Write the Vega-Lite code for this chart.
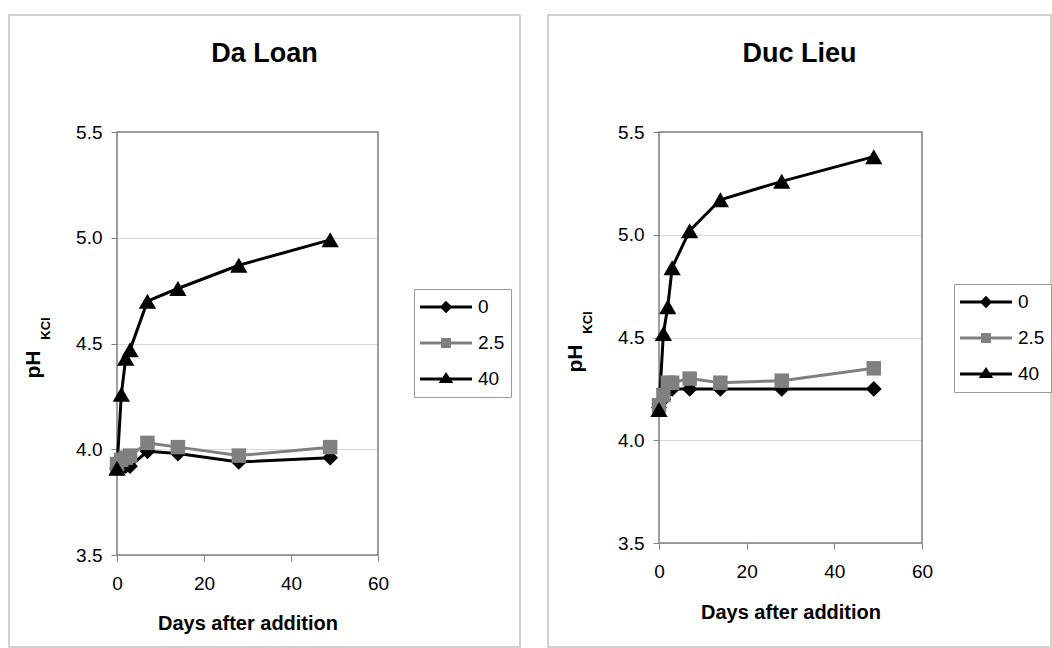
{
  "$schema": "https://vega.github.io/schema/vega-lite/v6.json",
  "background": "white",
  "padding": {"left": 8, "top": 14, "right": 0, "bottom": 0},
  "spacing": 26,
  "datasets": {
    "box": [{"part": "plot area"}],
    "ph": [
      {"site": "Da Loan", "level": "0", "day": 0, "ph": 3.91},
      {"site": "Da Loan", "level": "0", "day": 1, "ph": 3.91},
      {"site": "Da Loan", "level": "0", "day": 2, "ph": 3.92},
      {"site": "Da Loan", "level": "0", "day": 3, "ph": 3.92},
      {"site": "Da Loan", "level": "0", "day": 7, "ph": 3.99},
      {"site": "Da Loan", "level": "0", "day": 14, "ph": 3.98},
      {"site": "Da Loan", "level": "0", "day": 28, "ph": 3.94},
      {"site": "Da Loan", "level": "0", "day": 49, "ph": 3.96},
      {"site": "Da Loan", "level": "2.5", "day": 0, "ph": 3.93},
      {"site": "Da Loan", "level": "2.5", "day": 1, "ph": 3.95},
      {"site": "Da Loan", "level": "2.5", "day": 2, "ph": 3.96},
      {"site": "Da Loan", "level": "2.5", "day": 3, "ph": 3.97},
      {"site": "Da Loan", "level": "2.5", "day": 7, "ph": 4.03},
      {"site": "Da Loan", "level": "2.5", "day": 14, "ph": 4.01},
      {"site": "Da Loan", "level": "2.5", "day": 28, "ph": 3.97},
      {"site": "Da Loan", "level": "2.5", "day": 49, "ph": 4.01},
      {"site": "Da Loan", "level": "40", "day": 0, "ph": 3.91},
      {"site": "Da Loan", "level": "40", "day": 1, "ph": 4.26},
      {"site": "Da Loan", "level": "40", "day": 2, "ph": 4.43},
      {"site": "Da Loan", "level": "40", "day": 3, "ph": 4.47},
      {"site": "Da Loan", "level": "40", "day": 7, "ph": 4.70},
      {"site": "Da Loan", "level": "40", "day": 14, "ph": 4.76},
      {"site": "Da Loan", "level": "40", "day": 28, "ph": 4.87},
      {"site": "Da Loan", "level": "40", "day": 49, "ph": 4.99},
      {"site": "Duc Lieu", "level": "0", "day": 0, "ph": 4.16},
      {"site": "Duc Lieu", "level": "0", "day": 1, "ph": 4.20},
      {"site": "Duc Lieu", "level": "0", "day": 2, "ph": 4.24},
      {"site": "Duc Lieu", "level": "0", "day": 3, "ph": 4.25},
      {"site": "Duc Lieu", "level": "0", "day": 7, "ph": 4.25},
      {"site": "Duc Lieu", "level": "0", "day": 14, "ph": 4.25},
      {"site": "Duc Lieu", "level": "0", "day": 28, "ph": 4.25},
      {"site": "Duc Lieu", "level": "0", "day": 49, "ph": 4.25},
      {"site": "Duc Lieu", "level": "2.5", "day": 0, "ph": 4.17},
      {"site": "Duc Lieu", "level": "2.5", "day": 1, "ph": 4.22},
      {"site": "Duc Lieu", "level": "2.5", "day": 2, "ph": 4.28},
      {"site": "Duc Lieu", "level": "2.5", "day": 3, "ph": 4.28},
      {"site": "Duc Lieu", "level": "2.5", "day": 7, "ph": 4.30},
      {"site": "Duc Lieu", "level": "2.5", "day": 14, "ph": 4.28},
      {"site": "Duc Lieu", "level": "2.5", "day": 28, "ph": 4.29},
      {"site": "Duc Lieu", "level": "2.5", "day": 49, "ph": 4.35},
      {"site": "Duc Lieu", "level": "40", "day": 0, "ph": 4.15},
      {"site": "Duc Lieu", "level": "40", "day": 1, "ph": 4.52},
      {"site": "Duc Lieu", "level": "40", "day": 2, "ph": 4.65},
      {"site": "Duc Lieu", "level": "40", "day": 3, "ph": 4.84},
      {"site": "Duc Lieu", "level": "40", "day": 7, "ph": 5.02},
      {"site": "Duc Lieu", "level": "40", "day": 14, "ph": 5.17},
      {"site": "Duc Lieu", "level": "40", "day": 28, "ph": 5.26},
      {"site": "Duc Lieu", "level": "40", "day": 49, "ph": 5.38}
    ]
  },
  "resolve": {
    "scale": {"x": "independent", "y": "independent", "color": "independent", "shape": "independent"},
    "legend": {"color": "independent", "shape": "independent"}
  },
  "hconcat": [
    {
      "width": 511,
      "height": 632,
      "title": {"text": "Da Loan", "fontSize": 27, "fontWeight": "bold", "color": "#000000", "offset": -53, "anchor": "middle"},
      "resolve": {"axis": {"y": "independent"}},
      "layer": [
        {
          "data": {"name": "box"},
          "mark": {"type": "rect", "filled": false, "stroke": "#7f7f7f", "strokeWidth": 1.5},
          "encoding": {
            "x": {"datum": 0, "type": "quantitative", "scale": {"domain": [0, 60], "range": [108, 369], "nice": false, "zero": false},
                  "axis": {"values": [0, 20, 40, 60], "title": "Days after addition", "offset": -92, "grid": false, "domain": false, "tickSize": 6, "tickColor": "#808080", "labelPadding": 13, "labelFontSize": 19, "labelFlush": false, "labelOverlap": false, "titleFontSize": 20, "titleFontWeight": "bold", "titleY": 68, "titleBaseline": "middle"}},
            "x2": {"datum": 60},
            "y": {"datum": 3.5, "type": "quantitative", "scale": {"domain": [3.5, 5.5], "range": [540, 117], "nice": false, "zero": false}, "axis": null},
            "y2": {"datum": 5.5}
          }
        },
        {
          "data": {"name": "ph"},
          "transform": [{"filter": "datum.site === 'Da Loan'"}],
          "mark": {"type": "line", "strokeWidth": 3},
          "encoding": {
            "x": {"field": "day", "type": "quantitative", "scale": {"domain": [0, 60], "range": [108, 369], "nice": false, "zero": false},
                  "axis": {"values": [0, 20, 40, 60], "title": "Days after addition", "offset": -92, "grid": false, "domain": false, "tickSize": 6, "tickColor": "#808080", "labelPadding": 13, "labelFontSize": 19, "labelFlush": false, "labelOverlap": false, "titleFontSize": 20, "titleFontWeight": "bold", "titleY": 68, "titleBaseline": "middle"}},
            "y": {"field": "ph", "type": "quantitative", "scale": {"domain": [3.5, 5.5], "range": [540, 117], "nice": false, "zero": false},
                  "axis": {"values": [3.5, 4, 4.5, 5, 5.5], "format": ".1f", "title": "pH", "orient": "left", "offset": -108, "grid": true, "gridColor": "#d9d9d9", "domain": false, "tickSize": 6, "tickColor": "#808080", "labelPadding": 9, "labelFontSize": 19, "labelFlush": false, "labelOverlap": false, "titleFontSize": 21, "titleFontWeight": "bold", "titleAngle": 270, "titleAlign": "center", "titleBaseline": "middle", "titleX": -84, "titleY": 349}},
            "detail": {"field": "level", "type": "nominal"},
            "color": {"condition": {"test": "datum.level === '2.5'", "value": "#808080"}, "value": "#000000"}
          }
        },
        {
          "data": {"name": "ph"},
          "transform": [{"filter": "datum.site === 'Da Loan'"}],
          "mark": {"type": "point", "filled": true, "opacity": 1},
          "encoding": {
            "x": {"field": "day", "type": "quantitative", "scale": {"domain": [0, 60], "range": [108, 369], "nice": false, "zero": false},
                  "axis": {"values": [0, 20, 40, 60], "title": "Days after addition", "offset": -92, "grid": false, "domain": false, "tickSize": 6, "tickColor": "#808080", "labelPadding": 13, "labelFontSize": 19, "labelFlush": false, "labelOverlap": false, "titleFontSize": 20, "titleFontWeight": "bold", "titleY": 68, "titleBaseline": "middle"}},
            "y": {"field": "ph", "type": "quantitative", "scale": {"domain": [3.5, 5.5], "range": [540, 117], "nice": false, "zero": false}, "axis": null},
            "color": {"condition": {"test": "datum.level === '2.5'", "value": "#808080"}, "value": "#000000"},
            "shape": {"condition": [{"test": "datum.level === '0'", "value": "diamond"}, {"test": "datum.level === '2.5'", "value": "square"}], "value": "triangle-up"},
            "size": {"condition": [{"test": "datum.level === '40'", "value": 300}, {"test": "datum.level === '0'", "value": 250}], "value": 210}
          }
        },
        {
          "data": {"name": "ph"},
          "transform": [{"filter": "datum.site === 'Da Loan'"}],
          "mark": {"type": "point", "filled": true, "opacity": 0},
          "encoding": {
            "x": {"field": "day", "type": "quantitative", "scale": {"domain": [0, 60], "range": [108, 369], "nice": false, "zero": false},
                  "axis": {"values": [0, 20, 40, 60], "title": "Days after addition", "offset": -92, "grid": false, "domain": false, "tickSize": 6, "tickColor": "#808080", "labelPadding": 13, "labelFontSize": 19, "labelFlush": false, "labelOverlap": false, "titleFontSize": 20, "titleFontWeight": "bold", "titleY": 68, "titleBaseline": "middle"}},
            "y": {"field": "ph", "type": "quantitative", "scale": {"domain": [3.5, 5.5], "range": [540, 117], "nice": false, "zero": false},
                  "axis": {"title": "KCl", "orient": "left", "offset": -108, "labels": false, "ticks": false, "domain": false, "grid": false, "titleFontSize": 13, "titleFontWeight": "bold", "titleAngle": 270, "titleAlign": "center", "titleBaseline": "middle", "titleX": -72, "titleY": 313}},
            "color": {"field": "level", "type": "nominal", "scale": {"domain": ["0", "2.5", "40"], "range": ["#000000", "#808080", "#000000"]},
                      "legend": {"title": null, "orient": "none", "legendX": 405, "legendY": 274, "symbolSize": 2704, "symbolOpacity": 1, "clipHeight": 24, "rowPadding": 12, "labelOffset": 6, "padding": 6, "strokeColor": "#999999", "fillColor": "#ffffff", "labelFontSize": 19, "labelColor": "#000000", "symbolStrokeWidth": 0}},
            "shape": {"field": "level", "type": "nominal", "scale": {"domain": ["0", "2.5", "40"], "range": ["M-1,-0.06H1V0.06H-1Z M0,-0.24L0.24,0L0,0.24L-0.24,0Z", "M-1,-0.06H1V0.06H-1Z M-0.19,-0.19H0.19V0.19H-0.19Z", "M-1,-0.06H1V0.06H-1Z M0,-0.27L0.28,0.15L-0.28,0.15Z"]},
                      "legend": {"title": null, "orient": "none", "legendX": 405, "legendY": 274, "symbolSize": 2704, "symbolOpacity": 1, "clipHeight": 24, "rowPadding": 12, "labelOffset": 6, "padding": 6, "strokeColor": "#999999", "fillColor": "#ffffff", "labelFontSize": 19, "labelColor": "#000000", "symbolStrokeWidth": 0}}
          }
        }
      ]
    },
    {
      "width": 503,
      "height": 632,
      "title": {"text": "Duc Lieu", "fontSize": 27, "fontWeight": "bold", "color": "#000000", "offset": -53, "anchor": "middle"},
      "resolve": {"axis": {"y": "independent"}},
      "layer": [
        {
          "data": {"name": "box"},
          "mark": {"type": "rect", "filled": false, "stroke": "#7f7f7f", "strokeWidth": 1.5},
          "encoding": {
            "x": {"datum": 0, "type": "quantitative", "scale": {"domain": [0, 60], "range": [111, 374], "nice": false, "zero": false},
                  "axis": {"values": [0, 20, 40, 60], "title": "Days after addition", "offset": -104, "grid": false, "domain": false, "tickSize": 6, "tickColor": "#808080", "labelPadding": 13, "labelFontSize": 19, "labelFlush": false, "labelOverlap": false, "titleFontSize": 20, "titleFontWeight": "bold", "titleY": 69, "titleBaseline": "middle"}},
            "x2": {"datum": 60},
            "y": {"datum": 3.5, "type": "quantitative", "scale": {"domain": [3.5, 5.5], "range": [528, 117], "nice": false, "zero": false}, "axis": null},
            "y2": {"datum": 5.5}
          }
        },
        {
          "data": {"name": "ph"},
          "transform": [{"filter": "datum.site === 'Duc Lieu'"}],
          "mark": {"type": "line", "strokeWidth": 3},
          "encoding": {
            "x": {"field": "day", "type": "quantitative", "scale": {"domain": [0, 60], "range": [111, 374], "nice": false, "zero": false},
                  "axis": {"values": [0, 20, 40, 60], "title": "Days after addition", "offset": -104, "grid": false, "domain": false, "tickSize": 6, "tickColor": "#808080", "labelPadding": 13, "labelFontSize": 19, "labelFlush": false, "labelOverlap": false, "titleFontSize": 20, "titleFontWeight": "bold", "titleY": 69, "titleBaseline": "middle"}},
            "y": {"field": "ph", "type": "quantitative", "scale": {"domain": [3.5, 5.5], "range": [528, 117], "nice": false, "zero": false},
                  "axis": {"values": [3.5, 4, 4.5, 5, 5.5], "format": ".1f", "title": "pH", "orient": "left", "offset": -111, "grid": true, "gridColor": "#d9d9d9", "domain": false, "tickSize": 6, "tickColor": "#808080", "labelPadding": 9, "labelFontSize": 19, "labelFlush": false, "labelOverlap": false, "titleFontSize": 21, "titleFontWeight": "bold", "titleAngle": 270, "titleAlign": "center", "titleBaseline": "middle", "titleX": -84, "titleY": 343}},
            "detail": {"field": "level", "type": "nominal"},
            "color": {"condition": {"test": "datum.level === '2.5'", "value": "#808080"}, "value": "#000000"}
          }
        },
        {
          "data": {"name": "ph"},
          "transform": [{"filter": "datum.site === 'Duc Lieu'"}],
          "mark": {"type": "point", "filled": true, "opacity": 1},
          "encoding": {
            "x": {"field": "day", "type": "quantitative", "scale": {"domain": [0, 60], "range": [111, 374], "nice": false, "zero": false},
                  "axis": {"values": [0, 20, 40, 60], "title": "Days after addition", "offset": -104, "grid": false, "domain": false, "tickSize": 6, "tickColor": "#808080", "labelPadding": 13, "labelFontSize": 19, "labelFlush": false, "labelOverlap": false, "titleFontSize": 20, "titleFontWeight": "bold", "titleY": 69, "titleBaseline": "middle"}},
            "y": {"field": "ph", "type": "quantitative", "scale": {"domain": [3.5, 5.5], "range": [528, 117], "nice": false, "zero": false}, "axis": null},
            "color": {"condition": {"test": "datum.level === '2.5'", "value": "#808080"}, "value": "#000000"},
            "shape": {"condition": [{"test": "datum.level === '0'", "value": "diamond"}, {"test": "datum.level === '2.5'", "value": "square"}], "value": "triangle-up"},
            "size": {"condition": [{"test": "datum.level === '40'", "value": 300}, {"test": "datum.level === '0'", "value": 250}], "value": 210}
          }
        },
        {
          "data": {"name": "ph"},
          "transform": [{"filter": "datum.site === 'Duc Lieu'"}],
          "mark": {"type": "point", "filled": true, "opacity": 0},
          "encoding": {
            "x": {"field": "day", "type": "quantitative", "scale": {"domain": [0, 60], "range": [111, 374], "nice": false, "zero": false},
                  "axis": {"values": [0, 20, 40, 60], "title": "Days after addition", "offset": -104, "grid": false, "domain": false, "tickSize": 6, "tickColor": "#808080", "labelPadding": 13, "labelFontSize": 19, "labelFlush": false, "labelOverlap": false, "titleFontSize": 20, "titleFontWeight": "bold", "titleY": 69, "titleBaseline": "middle"}},
            "y": {"field": "ph", "type": "quantitative", "scale": {"domain": [3.5, 5.5], "range": [528, 117], "nice": false, "zero": false},
                  "axis": {"title": "KCl", "orient": "left", "offset": -111, "labels": false, "ticks": false, "domain": false, "grid": false, "titleFontSize": 13, "titleFontWeight": "bold", "titleAngle": 270, "titleAlign": "center", "titleBaseline": "middle", "titleX": -72, "titleY": 307}},
            "color": {"field": "level", "type": "nominal", "scale": {"domain": ["0", "2.5", "40"], "range": ["#000000", "#808080", "#000000"]},
                      "legend": {"title": null, "orient": "none", "legendX": 406, "legendY": 269, "symbolSize": 2704, "symbolOpacity": 1, "clipHeight": 24, "rowPadding": 12, "labelOffset": 6, "padding": 6, "strokeColor": "#999999", "fillColor": "#ffffff", "labelFontSize": 19, "labelColor": "#000000", "symbolStrokeWidth": 0}},
            "shape": {"field": "level", "type": "nominal", "scale": {"domain": ["0", "2.5", "40"], "range": ["M-1,-0.06H1V0.06H-1Z M0,-0.24L0.24,0L0,0.24L-0.24,0Z", "M-1,-0.06H1V0.06H-1Z M-0.19,-0.19H0.19V0.19H-0.19Z", "M-1,-0.06H1V0.06H-1Z M0,-0.27L0.28,0.15L-0.28,0.15Z"]},
                      "legend": {"title": null, "orient": "none", "legendX": 406, "legendY": 269, "symbolSize": 2704, "symbolOpacity": 1, "clipHeight": 24, "rowPadding": 12, "labelOffset": 6, "padding": 6, "strokeColor": "#999999", "fillColor": "#ffffff", "labelFontSize": 19, "labelColor": "#000000", "symbolStrokeWidth": 0}}
          }
        }
      ]
    }
  ],
  "config": {
    "view": {"stroke": "#c4c4c4", "strokeWidth": 1.5},
    "font": "Liberation Sans",
    "axis": {"labelFont": "Liberation Sans", "titleFont": "Liberation Sans", "labelColor": "#000000", "titleColor": "#000000"},
    "legend": {"labelFont": "Liberation Sans"},
    "title": {"font": "Liberation Sans"}
  }
}
